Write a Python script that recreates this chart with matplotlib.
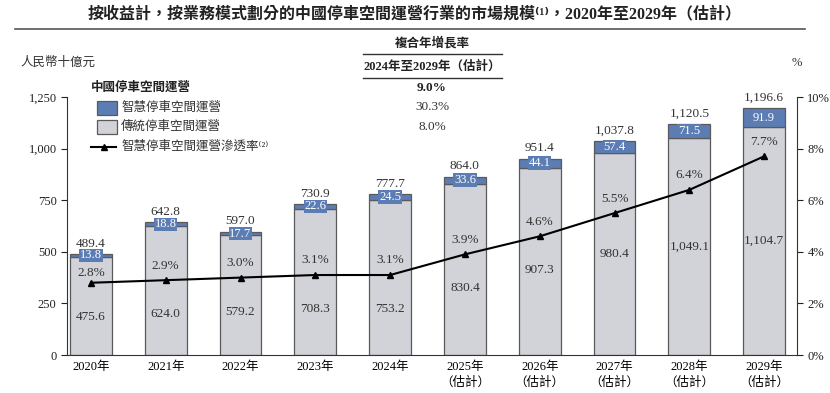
import matplotlib
matplotlib.use("Agg")
import matplotlib.pyplot as plt
from matplotlib.patches import Rectangle
from matplotlib.lines import Line2D
import numpy as np

plt.rcParams['font.family'] = ['Liberation Serif', 'Noto Sans CJK TC', 'DejaVu Sans']

years = ["2020年", "2021年", "2022年", "2023年", "2024年",
         "2025年\n（估計）", "2026年\n（估計）", "2027年\n（估計）", "2028年\n（估計）", "2029年\n（估計）"]
traditional = [475.6, 624.0, 579.2, 708.3, 753.2, 830.4, 907.3, 980.4, 1049.1, 1104.7]
smart = [13.8, 18.8, 17.7, 22.6, 24.5, 33.6, 44.1, 57.4, 71.5, 91.9]
totals = [489.4, 642.8, 597.0, 730.9, 777.7, 864.0, 951.4, 1037.8, 1120.5, 1196.6]
penetration = [2.8, 2.9, 3.0, 3.1, 3.1, 3.9, 4.6, 5.5, 6.4, 7.7]
cagr = ["9.0%", "30.3%", "8.0%"]
legend_labels = ["智慧停車空間運營", "傳統停車空間運營", "智慧停車空間運營滲透率⁽²⁾"]

BLUE = "#5b7db4"
GRAY = "#d2d3d8"
EDGE = "#5a5a5a"

W, H = 830, 393
fig = plt.figure(figsize=(W / 100, H / 100), dpi=100)

def fx(x):
    return x / W

def fy(y):
    return 1 - y / H

ax = fig.add_axes([fx(67), fy(355), fx(797) - fx(67), fy(97) - fy(355)])
x = np.arange(len(years))
bw = 0.56
ax.bar(x, traditional, bw, color=GRAY, edgecolor=EDGE, linewidth=0.9, zorder=2)
ax.bar(x, smart, bw, bottom=traditional, color=BLUE, edgecolor=EDGE, linewidth=0.9, zorder=2)
ax.set_xlim(-0.32, 9.44)
ax.set_ylim(0, 1250)
ax.set_yticks([0, 250, 500, 750, 1000, 1250])
ax.set_yticklabels(["0", "250", "500", "750", "1,000", "1,250"], fontsize=9)
ax.set_xticks(x)
ax.set_xticklabels(years, fontsize=9, linespacing=1.35)
ax.tick_params(axis='x', length=0, pad=4)
ax.tick_params(axis='y', length=4, width=0.8, colors="#222222")
for s in ["top", "right"]:
    ax.spines[s].set_visible(False)
ax.spines["left"].set_color("#333333")
ax.spines["bottom"].set_color("#333333")

# left-axis units per 1% on the right axis
scale = 1250 / 10
for i in range(len(x)):
    t = traditional[i]
    s = smart[i]
    ypos = min(0.5 * t, penetration[i] * scale - 165)
    ax.text(x[i], ypos, f"{t:,.1f}", ha="center", va="center", fontsize=9.5, color="#333333", zorder=5)
    ax.text(x[i], t + s / 2, f"{s:.1f}", ha="center", va="center", fontsize=9, color="white", zorder=5,
            bbox=dict(boxstyle="square,pad=0.06", facecolor=BLUE, edgecolor="none"))
    ax.annotate(f"{totals[i]:,.1f}", (x[i], t + s), xytext=(0, 7.5), textcoords="offset points",
                ha="center", va="center", fontsize=9.5, color="#333333", zorder=5)

ax2 = ax.twinx()
ax2.set_ylim(0, 10)
ax2.set_yticks([0, 2, 4, 6, 8, 10])
ax2.set_yticklabels(["0%", "2%", "4%", "6%", "8%", "10%"], fontsize=9)
ax2.tick_params(axis='y', length=4, width=0.8, colors="#222222")
for s in ["top", "left", "bottom"]:
    ax2.spines[s].set_visible(False)
ax2.spines["right"].set_color("#333333")
ax2.plot(x, penetration, color="black", linewidth=1.5, marker="^", markersize=5, zorder=6)
for i in range(len(x)):
    off = 7 if i == 0 else 10.5
    ax2.annotate(f"{penetration[i]:.1f}%", (x[i], penetration[i]), xytext=(0, off), textcoords="offset points",
                 ha="center", va="center", fontsize=9.5, color="#333333")

# Title and header
fig.text(fx(415), fy(14), "按收益計，按業務模式劃分的中國停車空間運營行業的市場規模⁽¹⁾，2020年至2029年（估計）",
         ha="center", va="center", fontsize=11.5, fontweight="bold", color="#222222")
fig.add_artist(Line2D([fx(15), fx(805)], [fy(29), fy(29)], color="#555555", linewidth=1.2))
fig.text(fx(432), fy(43), "複合年增長率", ha="center", va="center", fontsize=9, fontweight="bold", color="#222222")
fig.add_artist(Line2D([fx(363), fx(502)], [fy(54), fy(54)], color="#333333", linewidth=1.0))
fig.text(fx(432), fy(66), "2024年至2029年（估計）", ha="center", va="center", fontsize=9, fontweight="bold", color="#222222")
fig.add_artist(Line2D([fx(363), fx(502)], [fy(78), fy(78)], color="#333333", linewidth=1.0))
fig.text(fx(20), fy(63), "人民幣十億元", ha="left", va="center", fontsize=9, style="italic", color="#333333")
fig.text(fx(792), fy(63), "%", ha="left", va="center", fontsize=9, color="#333333")

# CAGR values
fig.text(fx(432), fy(88), cagr[0], ha="center", va="center", fontsize=9.5, fontweight="bold", color="#222222")
fig.text(fx(432), fy(107), cagr[1], ha="center", va="center", fontsize=9.5, color="#333333")
fig.text(fx(432), fy(127), cagr[2], ha="center", va="center", fontsize=9.5, color="#333333")

# Legend
fig.text(fx(91), fy(88), "中國停車空間運營", ha="left", va="center", fontsize=9, fontweight="bold", color="#222222")
fig.add_artist(Rectangle((fx(97), fy(115)), fx(20), fy(101) - fy(115), facecolor=BLUE, edgecolor=EDGE, linewidth=0.9))
fig.text(fx(121), fy(108), legend_labels[0], ha="left", va="center", fontsize=9, color="#333333")
fig.add_artist(Rectangle((fx(97), fy(134)), fx(20), fy(120) - fy(134), facecolor=GRAY, edgecolor=EDGE, linewidth=0.9))
fig.text(fx(121), fy(127), legend_labels[1], ha="left", va="center", fontsize=9, color="#333333")
fig.add_artist(Line2D([fx(91), fx(116)], [fy(147), fy(147)], color="black", linewidth=1.5))
fig.add_artist(Line2D([fx(103.5)], [fy(147)], color="black", marker="^", markersize=5))
fig.text(fx(121), fy(147), legend_labels[2], ha="left", va="center", fontsize=9, color="#333333")

fig.savefig("out.png", dpi=100)
